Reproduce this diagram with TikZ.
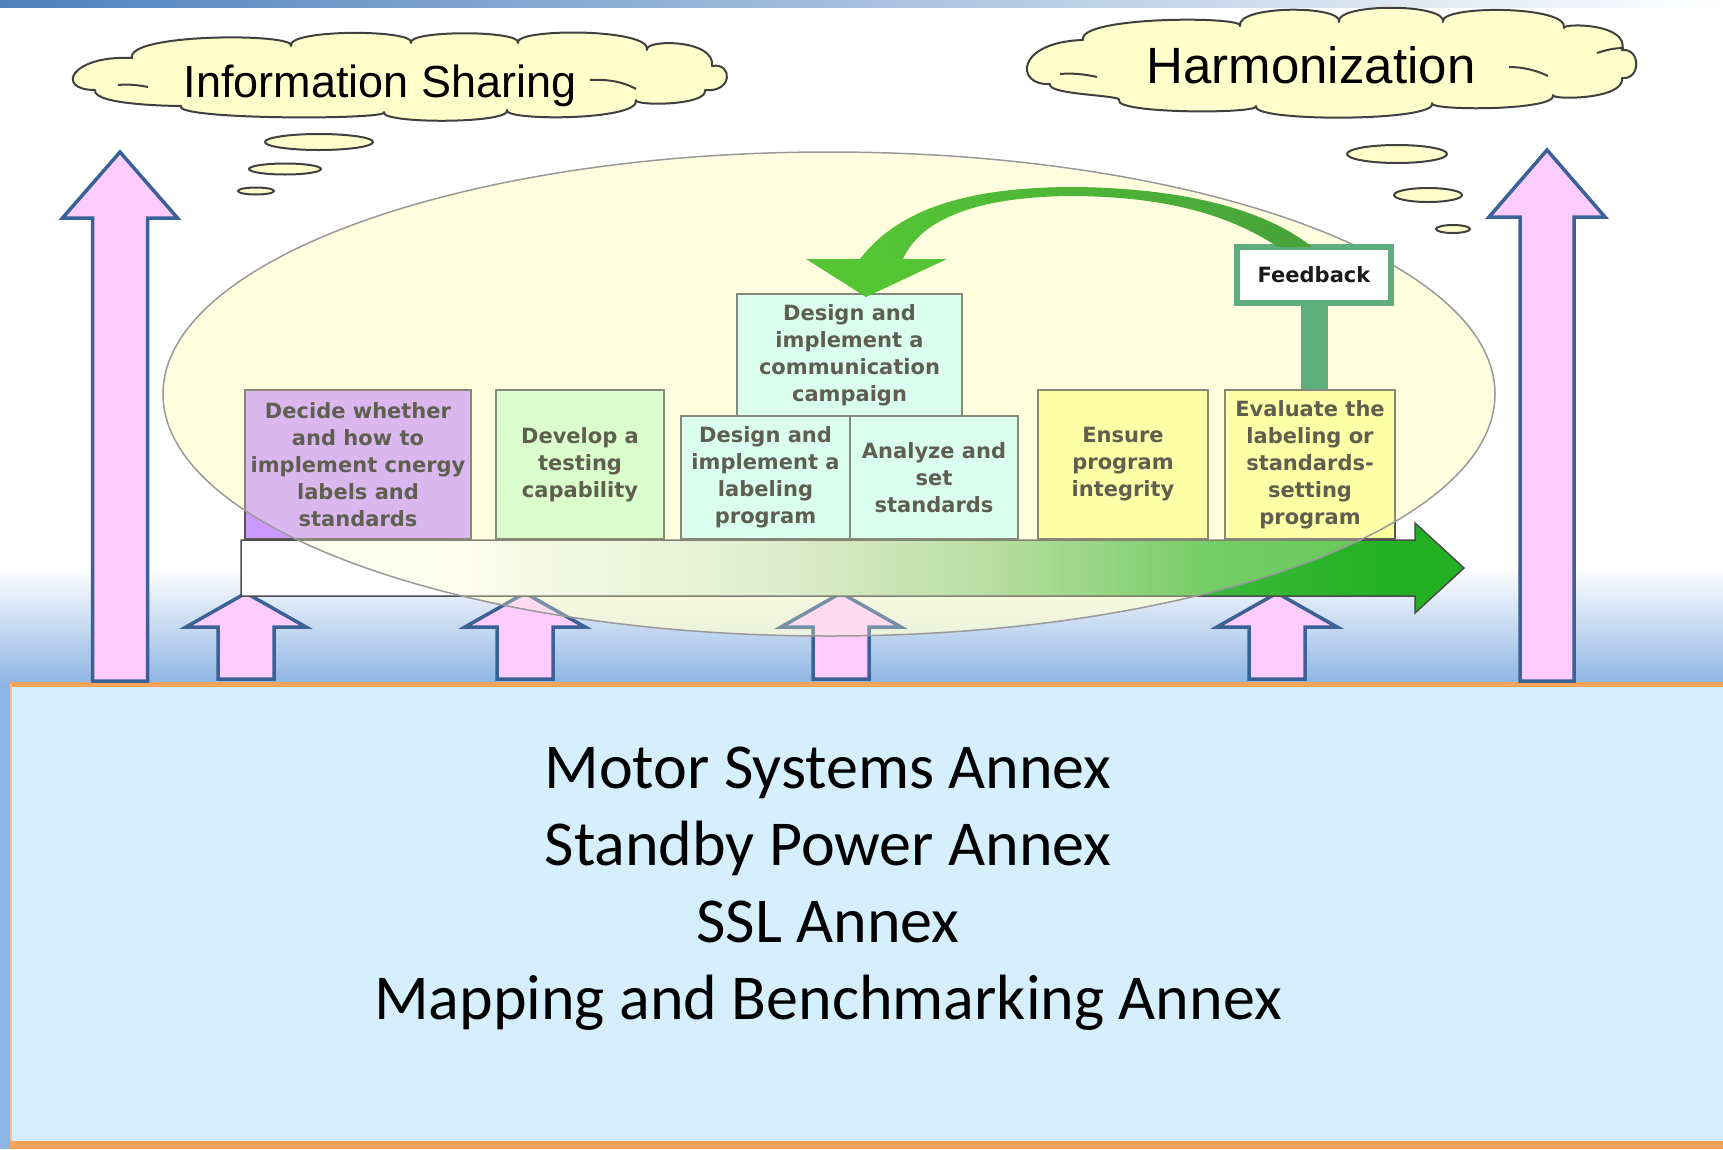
\documentclass[tikz,border=0pt]{standalone}
\usepackage{fontspec}
\newfontfamily\boxfont{DejaVu Sans}
\newfontfamily\cloudfont{Liberation Sans}
\newfontfamily\annexfont{Carlito}
\definecolor{topblue}{HTML}{4F81BD}
\definecolor{skyblue}{HTML}{8EB4E3}
\definecolor{panel}{HTML}{D5EFFD}
\definecolor{panelorange}{HTML}{F8A35A}
\definecolor{pinkfill}{HTML}{FFCCFF}
\definecolor{arrowblue}{HTML}{3B6296}
\definecolor{ellunder}{HTML}{FFFFDD}
\definecolor{ellover}{HTML}{FFFFCC}
\definecolor{gA}{HTML}{D5E7D1}
\definecolor{gB}{HTML}{9CD091}
\definecolor{gC}{HTML}{3BB93B}
\definecolor{gD}{HTML}{22B022}
\definecolor{boxpurple}{HTML}{CC99FF}
\definecolor{boxgreen}{HTML}{CCFFCC}
\definecolor{boxcyan}{HTML}{CCFFFF}
\definecolor{boxyellow}{HTML}{FFFF99}
\definecolor{boxborder}{HTML}{555555}
\definecolor{fbgreen}{HTML}{5FAE7E}
\definecolor{arcleft}{HTML}{55C535}
\definecolor{arcright}{HTML}{47A23A}
\definecolor{textgray}{HTML}{1A1A1A}
\definecolor{cloudfill}{HTML}{FFFFCC}
\pgfdeclarehorizontalshading{greenflow}{100bp}{color(0bp)=(white); color(25bp)=(white); color(33bp)=(white); color(46.5bp)=(gA); color(55.5bp)=(gB); color(64.5bp)=(gC); color(72.5bp)=(gD); color(100bp)=(gD)}
\newcommand\pinkup[6]{\path[pinkarrow] (#1,#2) -- (#1+#4,#3) -- (#1+#5,#3) -- (#1+#5,#6) -- (#1-#5,#6) -- (#1-#5,#3) -- (#1-#4,#3) -- cycle;}
\begin{document}
\begin{tikzpicture}[x=1pt,y=-1pt,
  pinkarrow/.style={fill=pinkfill, draw=arrowblue, line width=3.5, line join=miter},
  stepbox/.style={draw=boxborder, line width=1.5, inner sep=1pt, align=center,
    text=textgray, font=\boxfont\bfseries\fontsize{21}{27}\selectfont},
  cloudshape/.style={draw=black!75, line width=2, fill=cloudfill, line join=round},
  bubble/.style={draw=black!75, line width=2, fill=cloudfill},
  curl/.style={draw=black!75, line width=2},
  annex/.style={anchor=base, inner sep=0pt, font=\annexfont\fontsize{64}{77}\selectfont}]
\useasboundingbox (0,0) rectangle (1723,1149);
\fill[white] (0,0) rectangle (1723,1149);
% top bar
\shade[left color=topblue, right color=white] (0,0) rectangle (1723,7);
% blue band and panel
\shade[top color=white, bottom color=skyblue] (0,568) rectangle (1723,684);
\fill[skyblue] (0,684) rectangle (11,1149);
\fill[panel] (11,684) rectangle (1723,1149);
\draw[panelorange, line width=5] (10,684.5) -- (1723,684.5);
\draw[panelorange, line width=8] (10,1145) -- (1723,1145);
\draw[panelorange!70, line width=2] (11,684) -- (11,1141);
% clouds
\path[cloudshape] (132,58)
  .. controls (126,33) and (297,33) .. (291,46)
  .. controls (286,29) and (416,29) .. (411,43)
  .. controls (407,30) and (522,30) .. (518,43)
  .. controls (513,28) and (652,28) .. (647,50)
  .. controls (644,39) and (716,39) .. (712,66)
  .. controls (733,62) and (733,93) .. (705,90)
  .. controls (708,106) and (633,106) .. (636,100)
  .. controls (641,121) and (502,121) .. (507,110)
  .. controls (512,124) and (379,124) .. (384,112)
  .. controls (392,120) and (173,120) .. (181,106)
  .. controls (184,106) and (92,106) .. (95,90)
  .. controls (55,90) and (70,55) .. (132,58) -- cycle;
\path[cloudshape] (1083,40)
  .. controls (1077,16) and (1246,16) .. (1240,26)
  .. controls (1236,5) and (1343,5) .. (1339,22)
  .. controls (1335,3) and (1447,3) .. (1443,22)
  .. controls (1438,5) and (1569,5) .. (1564,28)
  .. controls (1562,23) and (1630,23) .. (1622,50)
  .. controls (1641,48) and (1641,80) .. (1622,78)
  .. controls (1625,100) and (1550,100) .. (1553,95)
  .. controls (1558,111) and (1427,111) .. (1432,103)
  .. controls (1439,122) and (1249,122) .. (1256,106)
  .. controls (1261,114) and (1114,114) .. (1119,100)
  .. controls (1122,95) and (1047,95) .. (1050,84)
  .. controls (1015,86) and (1015,42) .. (1083,40) -- cycle;
\draw[curl] (118,85) .. controls (128,84) and (138,85) .. (148,87);
\draw[curl] (590,80) .. controls (608,79) and (624,82) .. (636,89);
\draw[curl] (1060,74) .. controls (1072,73) and (1084,74) .. (1097,77);
\draw[curl] (1509,67) .. controls (1522,67) and (1536,70) .. (1548,76);
\draw[curl] (1597,53) .. controls (1606,50) and (1614,48) .. (1624,48);
\node[anchor=base, inner sep=0pt, font=\cloudfont\fontsize{45}{50}\selectfont] (info) at (380,97) {Information Sharing};
\node[anchor=base, inner sep=0pt, font=\cloudfont\fontsize{51}{56}\selectfont] (harm) at (1311,83) {Harmonization};
\path[bubble] (319,142) ellipse (54 and 8);
\path[bubble] (285,169) ellipse (36 and 5.5);
\path[bubble] (256,191) ellipse (18 and 3.5);
\path[bubble] (1397,154) ellipse (50 and 9);
\path[bubble] (1428,195) ellipse (34 and 7);
\path[bubble] (1453,229) ellipse (17 and 4);
% big pink arrows
\pinkup{120}{152}{218}{57.5}{27.5}{681}
\pinkup{1547}{150}{217}{58}{27}{681}
% ellipse (under layer)
\fill[ellunder, opacity=0.6] (829,394) ellipse (666 and 242);
% small pink arrows
\pinkup{246}{593}{627}{60}{28}{679}
\pinkup{525}{593}{627}{60}{28}{679}
\pinkup{841}{593}{627}{60}{28}{679}
\pinkup{1277}{593}{627}{60}{28}{679}
% horizontal process arrow
\shadedraw[shading=greenflow, draw=black!70, line width=1.5]
  (241,540) -- (1415,540) -- (1415,523) -- (1464,568) -- (1415,613) -- (1415,596) -- (241,596) -- cycle;
% step boxes
\node[stepbox, fill=boxpurple, minimum width=226, minimum height=149] (b1) at (358,464.5)
  {Decide whether\\and how to\\implement cnergy\\labels and\\standards};
\node[stepbox, fill=boxgreen, minimum width=168, minimum height=149] (b2) at (580,464.5)
  {Develop a\\testing\\capability};
\node[stepbox, fill=boxcyan, minimum width=169, minimum height=123] (b3) at (765.5,477.5)
  {Design and\\implement a\\labeling\\program};
\node[stepbox, fill=boxcyan, minimum width=168, minimum height=123] (b4) at (934,477.5)
  {Analyze and\\set\\standards};
\node[stepbox, fill=boxcyan, minimum width=225, minimum height=122] (b5) at (849.5,355)
  {Design and\\implement a\\communication\\campaign};
\node[stepbox, fill=boxyellow, minimum width=170, minimum height=149] (b6) at (1123,464.5)
  {Ensure\\program\\integrity};
\node[stepbox, fill=boxyellow, minimum width=170, minimum height=149] (b7) at (1310,464.5)
  {Evaluate the\\labeling or\\standards-\\setting\\program};
% ellipse (over layer and outline)
\fill[ellover, opacity=0.3] (829,394) ellipse (666 and 242);
\draw[black!40, line width=1.5] (829,394) ellipse (666 and 242);
% feedback
\node[draw=fbgreen, line width=6, fill=white, minimum width=154, minimum height=56,
  inner sep=0pt, text=textgray, font=\boxfont\bfseries\fontsize{21}{27}\selectfont] (fb) at (1314,275) {Feedback};
\draw[fbgreen, line width=27] (fb.south) -- (fb.south |- b7.north);
% curved feedback arrow
\shade[left color=arcleft, right color=arcright]
  (860,259) .. controls (905,200) and (990,187) .. (1075,187)
  .. controls (1170,188) and (1260,205) .. (1312,247)
  -- (1278,247) .. controls (1225,212) and (1160,197) .. (1075,196)
  .. controls (1000,196) and (925,210) .. (903,259) -- cycle;
\fill[arcleft] (806,259) -- (947,259) -- (866,297) -- cycle;
% annex text
\node[annex] (t1) at (828,788) {Motor Systems Annex};
\node[annex] (t2) at (828,865) {Standby Power Annex};
\node[annex] (t3) at (828,942) {SSL Annex};
\node[annex] (t4) at (828,1019) {Mapping and Benchmarking Annex};
\end{tikzpicture}
\end{document}
